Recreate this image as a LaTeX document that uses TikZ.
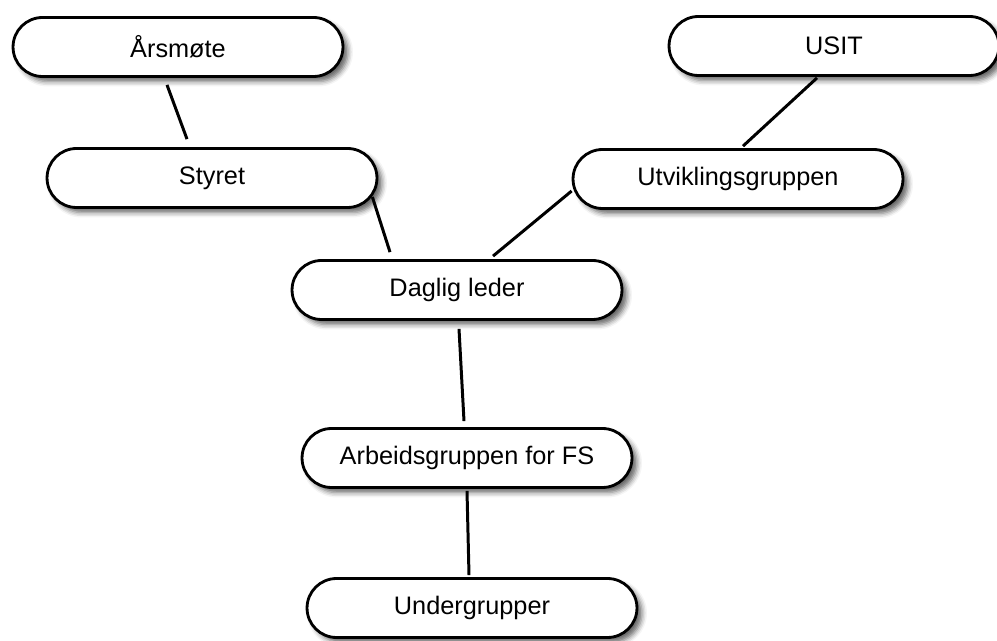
\documentclass[tikz,border=0pt]{standalone}
\usepackage{fontspec}
\setmainfont{Liberation Sans}
\usetikzlibrary{shapes.misc,shadows.blur,calc}

\begin{document}
\begin{tikzpicture}[x=0.02cm,y=-0.02cm,
                    unit/.style={rounded rectangle,draw,line width=1.6pt,fill=white,
                      minimum width=6.6cm,minimum height=1.18cm,inner sep=0pt,
                      font=\fontsize{14.4}{17}\selectfont,
                      blur shadow={shadow xshift=0.1cm,shadow yshift=-0.1cm,
                        shadow blur radius=0.1cm,shadow opacity=60}},
                    link/.style={line width=1.7pt}]
  \useasboundingbox (0,0) rectangle (997,641);

  \node[unit] (aarsmote) at (178,47)  {Årsmøte};
  \node[unit] (usit)     at (834,46)  {USIT};
  \node[unit] (styret)   at (212,178) {Styret};
  \node[unit] (utvikl)   at (738,179) {Utviklingsgruppen};
  \node[unit] (daglig)   at (457,290) {Daglig leder};
  \node[unit] (arbeid)   at (467,458) {Arbeidsgruppen for FS};
  \node[unit] (under)    at (472,608) {Undergrupper};

  \draw[link] ($(aarsmote.south)+(-11,7)$) -- ($(styret.north)+(-25,-8)$);
  \draw[link] ($(styret.east)+(-6,19)$)    -- ($(daglig.north)+(-67,-7)$);
  \draw[link] ($(usit.south)+(-17,1)$)     -- ($(utvikl.north)+(5,-2)$);
  \draw[link] ($(utvikl.west)+(0,12)$)     -- ($(daglig.north)+(36,-3)$);
  \draw[link] ($(daglig.south)+(2,8)$)     -- ($(arbeid.north)+(-3,-6)$);
  \draw[link] ($(arbeid.south)+(0,2)$)     -- ($(under.north)+(-3,-2)$);
\end{tikzpicture}
\end{document}
